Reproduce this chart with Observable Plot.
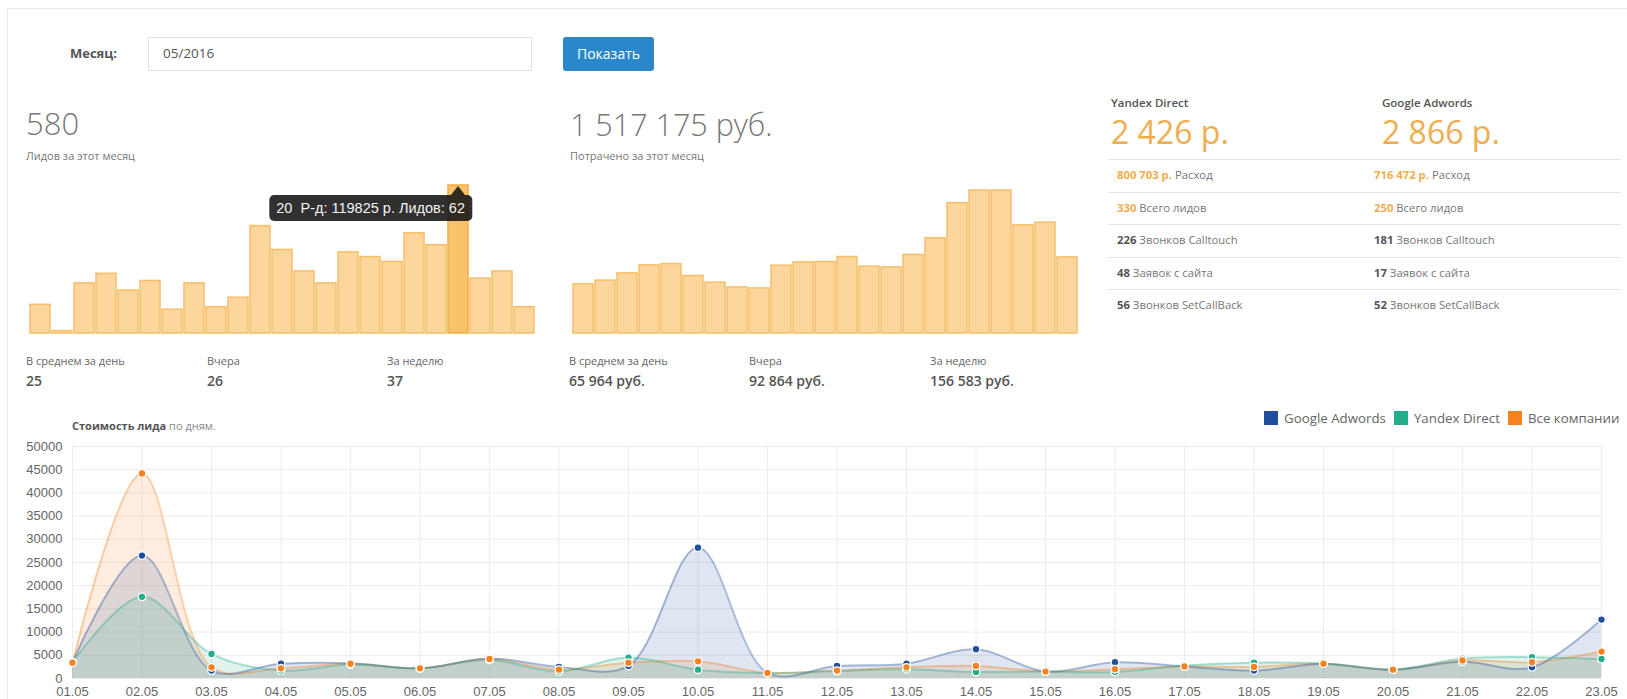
<!DOCTYPE html>
<html><head><meta charset="utf-8">
<script src="https://cdn.jsdelivr.net/npm/d3@7"></script>
<script src="https://cdn.jsdelivr.net/npm/@observablehq/plot@0.6"></script>
<style>
html,body{margin:0;padding:0}
body{width:1627px;height:699px;overflow:hidden;background:#fff;font-family:"Open Sans",sans-serif;color:#666;position:relative}
.abs{position:absolute;white-space:nowrap;line-height:1}
.box{position:absolute;box-sizing:border-box}
.chart{position:absolute}
.chart svg{display:block;max-width:none!important;overflow:visible}
</style></head><body>
<script>
// ---------- data ----------
const days = ["01.05","02.05","03.05","04.05","05.05","06.05","07.05","08.05","09.05","10.05","11.05","12.05","13.05","14.05","15.05","16.05","17.05","18.05","19.05","20.05","21.05","22.05","23.05"];
const leadsPerDay = [12,1,21,25,18,22,10,21,11,15,45,35,26,21,34,32,30,42,37,62,23,26,11];
const spendPerDay = [41200,44300,50400,57100,58200,48200,42600,38600,37800,56800,59600,59900,64100,56000,55400,65800,79800,109200,119800,119825,90700,92864,63800];
const highlightIndex = 19;
const seriesNames = ["Google Adwords","Yandex Direct","Все компании"];
const seriesColors = ["#1f4e9f","#22ad8b","#f5821f"];
const costGoogle = [3500,26500,1700,3200,3300,2200,4300,2500,2700,28200,1200,2700,3200,6300,1500,3500,2600,1700,3200,1900,3600,2400,12700];
const costYandex = [3500,17600,5300,1700,3000,2200,4000,1500,4500,1900,1200,1600,2000,1400,1500,1400,2800,3400,3200,1900,4300,4600,4200];
const costAll    = [3400,44200,2400,2200,3200,2200,4200,1900,3400,3700,1200,1700,2400,2700,1500,2000,2600,2500,3200,1900,3900,3500,5800];
const yTicks = [0,5000,10000,15000,20000,25000,30000,35000,40000,45000,50000];
const statLabels = ["В среднем за день","Вчера","За неделю"];
const leadStats = ["25","26","37"];
const spendStats = ["65 964 руб.","92 864 руб.","156 583 руб."];
const channels = ["Yandex Direct","Google Adwords"];
const channelCost = ["2 426 р.","2 866 р."];
const channelSpend = ["800 703 р.","716 472 р."];
const channelLeads = ["330","250"];
const channelCalltouch = ["226","181"];
const channelForms = ["48","17"];
const channelSetCallBack = ["56","52"];

// ---------- helpers ----------
const body = document.body;
function txt(html, x, baseline, size, css = "", k = 0.888) {
  const d = document.createElement("div");
  d.className = "abs";
  d.innerHTML = html;
  d.style.left = x + "px";
  d.style.top = (baseline - k * size) + "px";
  d.style.fontSize = size + "px";
  d.style.cssText += css;
  body.appendChild(d);
  return d;
}
function box(x, y, w, h, css) {
  const d = document.createElement("div");
  d.className = "box";
  Object.assign(d.style, {left: x + "px", top: y + "px", width: w + "px", height: h + "px"});
  d.style.cssText += css;
  body.appendChild(d);
  return d;
}

// panel border
box(7, 8, 1800, 900, "border-top:1px solid #e9e9e9;border-left:1px solid #e9e9e9;");

// header
txt("Месяц:", 70, 58.5, 13, "font-weight:700;color:#555;");
box(148, 37, 384, 34, "border:1px solid #e2e2e2;");
txt("05/2016", 163, 58.5, 13.5, "color:#555;");
const btn = box(563, 37, 91, 34, "background:#2a87c9;border-radius:3px;color:#fff;font-size:14px;line-height:34px;text-align:center;");
btn.textContent = "Показать";

// big numbers
const totalLeads = d3.sum(leadsPerDay);
txt(String(totalLeads), 26, 136, 31, "font-weight:300;color:#777;");
txt("Лидов за этот месяц", 26, 160, 11, "color:#777;");
txt("1 517 175 руб.", 570, 136, 30.5, "font-weight:300;color:#777;");
txt("Потрачено за этот месяц", 570, 160, 11, "color:#777;");

// stats rows
const statX = [[26,207,387],[569,749,930]];
[leadStats, spendStats].forEach((vals, g) => {
  vals.forEach((v, i) => {
    txt(statLabels[i], statX[g][i], 364.5, 11, "color:#666;");
    txt(v, statX[g][i], 386, 14, "font-weight:600;color:#555;");
  });
});

// right panel
const colX = [1111, 1382];
const rowX = [1117, 1374];
channels.forEach((c, i) => {
  txt(c, colX[i], 107.5, 11.5, "font-weight:600;color:#555;");
  txt(channelCost[i], colX[i], 144, 32, "color:#f0ad4e;");
});
[159,192,224,257,289].forEach(y => box(1108, y, 513, 1, "background:#e5e5e5;"));
const rowBase = [179.5, 212, 244.5, 277.5, 309.5];
const rows = [
  [channelSpend, "Расход", "#f0ad4e"],
  [channelLeads, "Всего лидов", "#f0ad4e"],
  [channelCalltouch, "Звонков Calltouch", "#555"],
  [channelForms, "Заявок с сайта", "#555"],
  [channelSetCallBack, "Звонков SetCallBack", "#555"]
];
rows.forEach((r, j) => {
  [0,1].forEach(i => {
    txt(`<b style="color:${r[2]};font-weight:700">${r[0][i]}</b> ${r[1]}`, rowX[i], rowBase[j], 11.3, "color:#777;");
  });
});

// ---------- top bar charts ----------
function sparkBars(values, left, top, w, h, hi) {
  const idx = d3.range(values.length);
  const ymax = d3.max(values);
  const chart = Plot.plot({
    width: w, height: h, marginTop: 1, marginBottom: 0, marginLeft: 0, marginRight: 0,
    x: {type: "band", domain: idx, paddingInner: 0.07, paddingOuter: 0, axis: null},
    y: {domain: [0, ymax], axis: null},
    style: {background: "transparent", overflow: "visible"},
    marks: [
      Plot.barY(idx.filter(i => i !== hi), {x: i => i, y: i => values[i], fill: "#fdd69d", stroke: "#f5bf68", strokeWidth: 1.5}),
      Plot.barY(idx.filter(i => i === hi), {x: i => i, y: i => values[i], fill: "#f9c36c", stroke: "#f2ad3f", strokeWidth: 1.5})
    ]
  });
  const c = document.createElement("div");
  c.className = "chart";
  Object.assign(c.style, {left: left + "px", top: top + "px", width: w + "px", height: h + "px"});
  c.appendChild(chart);
  body.appendChild(c);
  return {chart, c};
}
const leadsChart = sparkBars(leadsPerDay, 28, 184, 508, 149, highlightIndex);
sparkBars(spendPerDay, 571, 189, 508, 144, -1);

// tooltip on the highlighted bar, positioned with the chart's scales
{
  const xs = leadsChart.chart.scale("x"), ys = leadsChart.chart.scale("y");
  const cx = xs.apply(highlightIndex) + xs.bandwidth / 2;
  const yt = ys.apply(leadsPerDay[highlightIndex]);
  const tip = document.createElement("div");
  tip.innerHTML = `${highlightIndex + 1}&nbsp; Р-д: ${spendPerDay[highlightIndex]} р. Лидов: ${leadsPerDay[highlightIndex]}`;
  Object.assign(tip.style, {position: "absolute", left: (cx + 14) + "px", top: (yt + 10) + "px", transform: "translateX(-100%)",
    background: "rgba(25,25,25,0.9)", color: "#f4f4f4", font: "14.5px 'Liberation Sans', Arial, sans-serif", lineHeight: "26px",
    padding: "0 7px", borderRadius: "5px", whiteSpace: "nowrap"});
  const arrow = document.createElement("div");
  Object.assign(arrow.style, {position: "absolute", left: (cx - 7) + "px", top: (yt + 1) + "px", width: 0, height: 0,
    borderLeft: "7px solid transparent", borderRight: "7px solid transparent", borderBottom: "9px solid rgba(25,25,25,0.9)"});
  leadsChart.c.appendChild(arrow);
  leadsChart.c.appendChild(tip);
}

// ---------- bottom chart ----------
txt('<b style="color:#555">Стоимость лида</b> <span style="color:#888">по дням.</span>', 72, 430, 11, "");

// legend
{
  const lg = document.createElement("div");
  Object.assign(lg.style, {position: "absolute", left: "1264px", top: "410px", display: "flex", alignItems: "center", whiteSpace: "nowrap", fontSize: "13.3px", color: "#666", lineHeight: "16px"});
  seriesNames.forEach((n, i) => {
    const sq = document.createElement("span");
    Object.assign(sq.style, {display: "inline-block", width: "14px", height: "14px", background: seriesColors[i], marginRight: "6px"});
    const t = document.createElement("span");
    t.textContent = n;
    if (i < seriesNames.length - 1) t.style.marginRight = "8px";
    lg.appendChild(sq); lg.appendChild(t);
  });
  body.appendChild(lg);
}

const costSeries = [costGoogle, costYandex, costAll];
const costRows = [];
costSeries.forEach((arr, s) => arr.forEach((v, i) => costRows.push({i, day: days[i], series: seriesNames[s], value: v})));
const areaOrder = [seriesNames[2], seriesNames[0], seriesNames[1]];
const areaRows = areaOrder.flatMap(n => costRows.filter(r => r.series === n));

const costChart = Plot.plot({
  width: 1627, height: 263, marginLeft: 72, marginRight: 26, marginTop: 10, marginBottom: 21,
  x: {domain: [0, days.length - 1], ticks: d3.range(days.length), tickFormat: i => days[i], tickSize: 0, tickPadding: 8, label: null},
  y: {domain: [0, 50000], ticks: yTicks, tickFormat: d => String(d), tickSize: 0, tickPadding: 10, label: null},
  color: {domain: seriesNames, range: seriesColors},
  style: {fontFamily: "'Liberation Sans', Arial, sans-serif", fontSize: "13px", color: "#666", background: "transparent", overflow: "visible"},
  marks: [
    Plot.ruleY(yTicks, {stroke: "#ececec"}),
    Plot.ruleX(d3.range(days.length), {stroke: "#ececec"}),
    Plot.areaY(areaRows, {x: "i", y1: 0, y2: "value", z: "series", fill: "series", fillOpacity: 0.14, curve: "catmull-rom"}),
    Plot.lineY(areaRows, {x: "i", y: "value", z: "series", stroke: "series", strokeOpacity: 0.35, strokeWidth: 2, curve: "catmull-rom"}),
    Plot.dot(costRows, {x: "i", y: "value", fill: "series", r: 3.8, stroke: "#fff", strokeWidth: 1.3})
  ]
});
{
  const c = document.createElement("div");
  c.className = "chart";
  Object.assign(c.style, {left: "0px", top: "436px", width: "1627px", height: "263px"});
  c.appendChild(costChart);
  body.appendChild(c);
}
</script>
</body></html>
